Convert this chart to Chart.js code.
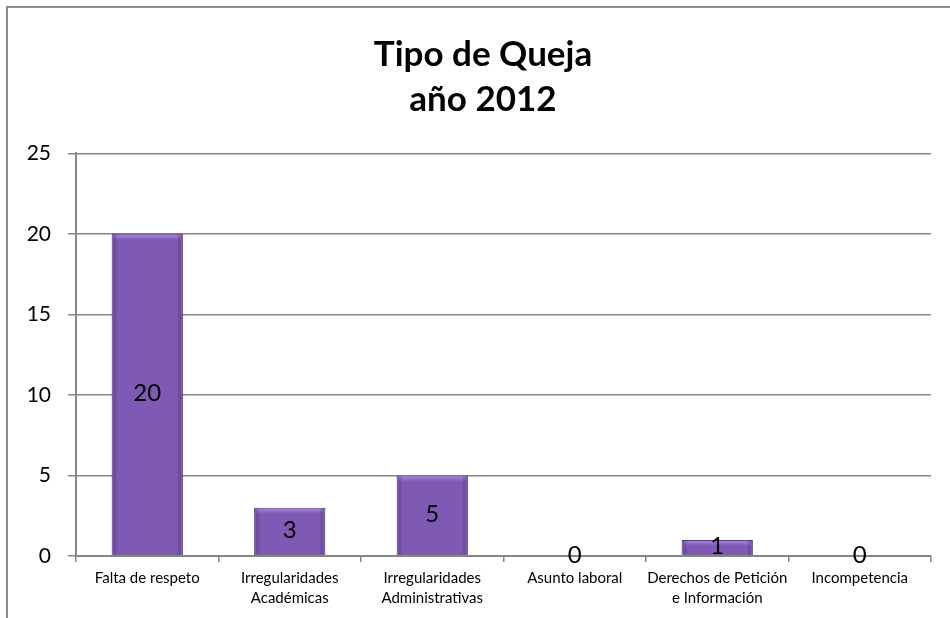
<!DOCTYPE html>
<html><head><meta charset="utf-8">
<script src="https://cdn.jsdelivr.net/npm/chart.js@4"></script>
<style>html,body{margin:0;padding:0;background:#fff}#wrap{width:950px;height:618px;position:relative}</style>
</head><body><div id="wrap"><canvas id="c" width="950" height="618"></canvas></div>
<script>
const titleLines = ['Tipo de Queja', 'año 2012'];
const categories = [
  'Falta de respeto',
  ['Irregularidades', 'Académicas'],
  ['Irregularidades', 'Administrativas'],
  'Asunto laboral',
  ['Derechos de Petición', 'e Información'],
  'Incompetencia'
];
const values = [20, 3, 5, 0, 1, 0];
const yMin = 0, yMax = 25, yStep = 5;

const FONT = 'Lato, "Open Sans", sans-serif';
const GRID = '#868686';

const framePlugin = {
  id: 'frame',
  beforeDraw(chart) {
    const ctx = chart.ctx;
    ctx.save();
    ctx.fillStyle = '#fff';
    ctx.fillRect(0, 0, chart.width, chart.height);
    ctx.strokeStyle = '#8c8c8c';
    ctx.lineWidth = 2;
    ctx.beginPath();
    ctx.moveTo(7, chart.height);
    ctx.lineTo(7, 7);
    ctx.lineTo(chart.width, 7);
    ctx.stroke();
    ctx.restore();
  }
};

const bevelPlugin = {
  id: 'bevel',
  afterDatasetsDraw(chart) {
    const ctx = chart.ctx;
    const meta = chart.getDatasetMeta(0);
    ctx.save();
    meta.data.forEach((el) => {
      const h = el.base - el.y;
      if (h <= 0) return;
      const left = el.x - el.width / 2, right = el.x + el.width / 2;
      const bh = Math.min(6, h / 2);
      const g = ctx.createLinearGradient(0, el.y, 0, el.y + bh);
      g.addColorStop(0, 'rgba(200,175,245,0.6)');
      g.addColorStop(1, 'rgba(200,175,245,0)');
      ctx.fillStyle = g;
      ctx.fillRect(left + 2, el.y + 1, el.width - 4, bh);
      const sw = Math.min(4, el.width / 6);
      ctx.fillStyle = 'rgba(60,35,100,0.22)';
      ctx.fillRect(left + 1, el.y + 1, sw, h - 2);
      ctx.fillRect(right - 1 - sw, el.y + 1, sw, h - 2);
    });
    ctx.restore();
  }
};

const dataLabelPlugin = {
  id: 'dataLabels',
  afterDatasetsDraw(chart) {
    const ctx = chart.ctx;
    const meta = chart.getDatasetMeta(0);
    ctx.save();
    ctx.fillStyle = '#000';
    ctx.font = '24px ' + FONT;
    ctx.textAlign = 'center';
    ctx.textBaseline = 'middle';
    meta.data.forEach((el, i) => {
      const yc = (el.y + el.base) / 2;
      ctx.fillText(String(values[i]), el.x, yc - 1);
    });
    ctx.restore();
  }
};

new Chart(document.getElementById('c'), {
  type: 'bar',
  data: {
    labels: categories,
    datasets: [{
      data: values,
      backgroundColor: '#7e5ab5',
      borderColor: '#4f347a',
      borderWidth: 1,
      barPercentage: 0.5,
      categoryPercentage: 1.0
    }]
  },
  options: {
    responsive: false,
    animation: false,
    devicePixelRatio: 1,
    layout: { padding: { left: 16, right: 0, top: 0, bottom: 0 } },
    plugins: {
      legend: { display: false },
      tooltip: { enabled: false },
      title: {
        display: true,
        text: titleLines,
        color: '#000',
        font: { family: FONT, size: 35, weight: 'bold', lineHeight: 1.29 },
        padding: { top: 32, bottom: 31 }
      }
    },
    scales: {
      x: {
        grid: { display: true, drawOnChartArea: false, drawTicks: true, tickLength: 6, color: GRID, lineWidth: 1.5, offset: true },
        border: { display: true, color: GRID, width: 2 },
        ticks: { color: '#000', font: { family: FONT, size: 15, lineHeight: 1.33 }, padding: 6, maxRotation: 0, autoSkip: false },
        afterFit(scale) { scale.height = 62; }
      },
      y: {
        min: yMin, max: yMax,
        grid: { color: GRID, lineWidth: 1.5, tickLength: 8, drawTicks: true },
        border: { display: true, color: GRID, width: 2 },
        ticks: { stepSize: yStep, color: '#000', font: { family: FONT, size: 21 }, padding: 17 },
        afterFit(scale) { scale.width = 60; }
      },
      yRightSpace: {
        position: 'right',
        display: true,
        grid: { display: false, drawTicks: false },
        border: { display: false },
        ticks: { display: false },
        afterFit(scale) { scale.width = 19; }
      }
    }
  },
  plugins: [framePlugin, bevelPlugin, dataLabelPlugin]
});
</script></body></html>
